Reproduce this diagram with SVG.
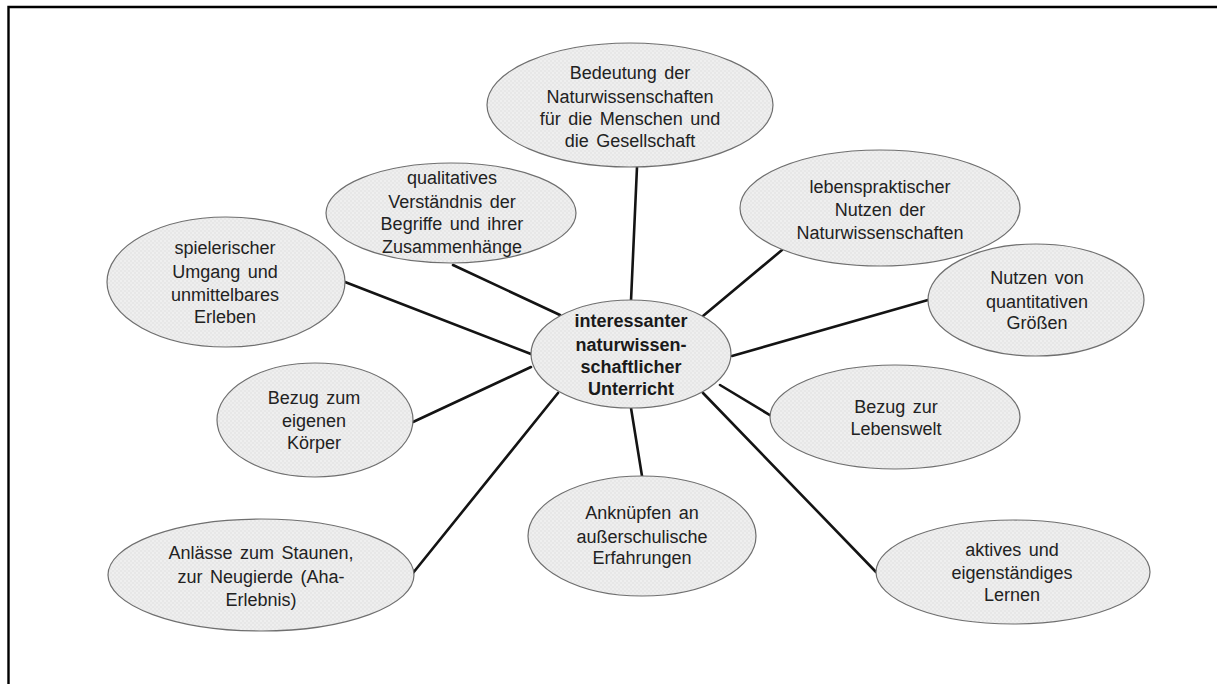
<svg xmlns="http://www.w3.org/2000/svg" width="1217" height="684" viewBox="0 0 1217 684">
  <defs>
    <pattern id="grain" width="4" height="4" patternUnits="userSpaceOnUse">
      <rect width="4" height="4" fill="#e7e7e7"/>
      <circle cx="1" cy="1" r="0.7" fill="#ffffff"/>
      <circle cx="3" cy="3" r="0.7" fill="#fafafa"/>
    </pattern>
  </defs>
  <style>
    .node ellipse { fill: url(#grain); stroke: #6f6f6f; stroke-width: 1.2; }
    .node text { font-family: "Liberation Sans", Arial, sans-serif; font-size: 18px; word-spacing: 2.5px; fill: #222222; text-anchor: middle; }
    .node.hub text { font-weight: bold; word-spacing: 0; fill: #1a1a1a; }
    .links line { stroke: #141414; stroke-width: 2.6; stroke-linecap: round; }
    .frame { fill: none; stroke: #000; stroke-width: 2.4; }
  </style>

  <rect width="1217" height="684" fill="#ffffff"/>
  <!-- page frame: top and left edges -->
  <polyline class="frame" points="8.5,690 8.5,7 1225,7"/>

  <g id="connectors" class="links">
    <line x1="631" y1="301" x2="637" y2="167"/>
    <line x1="560" y1="315" x2="453" y2="265"/>
    <line x1="703" y1="316" x2="782" y2="250"/>
    <line x1="531" y1="354" x2="345" y2="282"/>
    <line x1="732" y1="356" x2="928" y2="300"/>
    <line x1="531" y1="367" x2="413" y2="422"/>
    <line x1="558" y1="393" x2="413" y2="573"/>
    <line x1="631" y1="408" x2="642" y2="476"/>
    <line x1="703" y1="393" x2="876" y2="572"/>
    <line x1="720" y1="385" x2="773" y2="417"/>
  </g>

  <g id="node-bedeutung" class="node">
    <ellipse cx="630" cy="105" rx="143" ry="62"/>
    <text x="630" y="79">Bedeutung der</text>
    <text x="630" y="103">Naturwissenschaften</text>
    <text x="630" y="125">für die Menschen und</text>
    <text x="630" y="147">die Gesellschaft</text>
  </g>

  <g id="node-qualitatives" class="node">
    <ellipse cx="451" cy="213" rx="125" ry="50"/>
    <text x="452" y="184">qualitatives</text>
    <text x="452" y="208">Verständnis der</text>
    <text x="452" y="230">Begriffe und ihrer</text>
    <text x="452" y="253">Zusammenhänge</text>
  </g>

  <g id="node-lebenspraktisch" class="node">
    <ellipse cx="880" cy="208" rx="140" ry="58"/>
    <text x="880" y="193">lebenspraktischer</text>
    <text x="880" y="216">Nutzen der</text>
    <text x="880" y="239">Naturwissenschaften</text>
  </g>

  <g id="node-spielerisch" class="node">
    <ellipse cx="226" cy="282" rx="119" ry="65"/>
    <text x="225" y="254">spielerischer</text>
    <text x="225" y="278">Umgang und</text>
    <text x="225" y="301">unmittelbares</text>
    <text x="225" y="323">Erleben</text>
  </g>

  <g id="node-quantitativ" class="node">
    <ellipse cx="1036" cy="300" rx="108" ry="56"/>
    <text x="1037" y="284">Nutzen von</text>
    <text x="1037" y="308">quantitativen</text>
    <text x="1037" y="329">Größen</text>
  </g>

  <g id="node-hub" class="node hub">
    <ellipse cx="631" cy="354" rx="100" ry="54"/>
    <text x="631" y="327">interessanter</text>
    <text x="631" y="351">naturwissen-</text>
    <text x="631" y="373">schaftlicher</text>
    <text x="631" y="395">Unterricht</text>
  </g>

  <g id="node-koerper" class="node">
    <ellipse cx="315" cy="420" rx="98" ry="57"/>
    <text x="314" y="404">Bezug zum</text>
    <text x="314" y="427">eigenen</text>
    <text x="314" y="449">Körper</text>
  </g>

  <g id="node-lebenswelt" class="node">
    <ellipse cx="895" cy="417" rx="125" ry="52"/>
    <text x="896" y="413">Bezug zur</text>
    <text x="896" y="435">Lebenswelt</text>
  </g>

  <g id="node-ankneupfen" class="node">
    <ellipse cx="642" cy="536" rx="114" ry="60"/>
    <text x="642" y="519">Anknüpfen an</text>
    <text x="642" y="543">außerschulische</text>
    <text x="642" y="564">Erfahrungen</text>
  </g>

  <g id="node-staunen" class="node">
    <ellipse cx="261" cy="575" rx="153" ry="56"/>
    <text x="261" y="559">Anlässe zum Staunen,</text>
    <text x="261" y="583">zur Neugierde (Aha-</text>
    <text x="261" y="606">Erlebnis)</text>
  </g>

  <g id="node-aktiv" class="node">
    <ellipse cx="1013" cy="572" rx="137" ry="52"/>
    <text x="1012" y="556">aktives und</text>
    <text x="1012" y="579">eigenständiges</text>
    <text x="1012" y="601">Lernen</text>
  </g>
</svg>
